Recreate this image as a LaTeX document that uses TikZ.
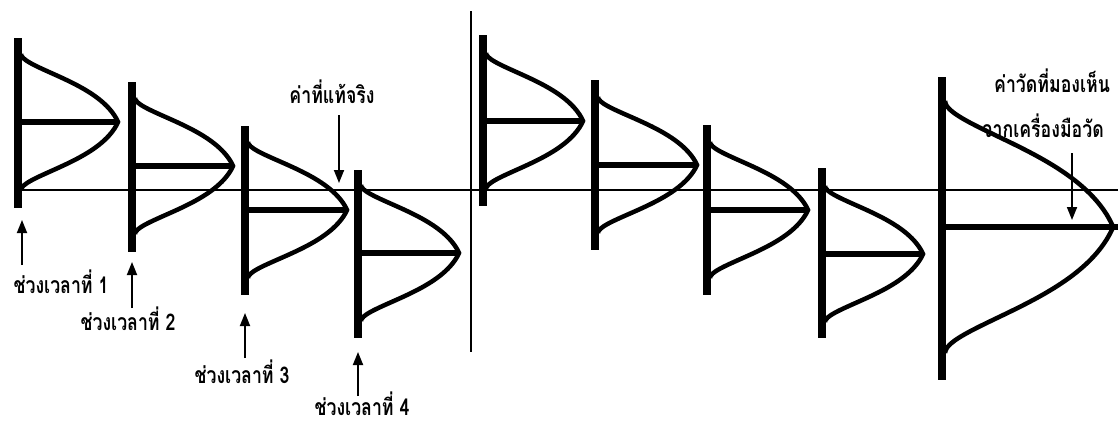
\documentclass[tikz,border=0pt]{standalone}
\usepackage{graphicx}
\usepackage{fontspec}
\newfontfamily\thaifont[Script=Thai]{Loma}
\usetikzlibrary{arrows.meta}

\newcommand\thtext[1]{\scalebox{0.77}[1]{#1}}
\tikzset{
  bar/.style={line width=8.5pt},
  meanln/.style={line width=6.5pt},
  bell/.style={line width=4.5pt},
  pointer/.style={line width=1.8pt,-{Triangle[length=13pt,width=10pt]}},
  lbl/.style={font=\thaifont\bfseries\fontsize{23}{26}\selectfont,inner sep=0pt,text depth=0pt,anchor=base}
}

\begin{document}
\begin{tikzpicture}[x=1pt,y=-1pt]
  \useasboundingbox (0,0) rectangle (1118,424);
  % reference line and divider
  \draw[line width=1.5pt] (15,190) -- (1118,190);
  \draw[line width=1.5pt] (471,11) -- (471,352);
  % bar x / top / bottom / mean / half height / peak
  \foreach \bx/\bt/\bb/\my/\hh/\bw in {18/38/208/122/68/100,132/82/252/166/68/101,245/126/295/210/68/102,358/170/338/253/68/101,
      483/35/206/121/68/100,595/80/250/165/68/102,707/125/295/210/68/101,822/168/338/254/68/101,942/77/380/227/126/171}{
    \draw[bar] (\bx,\bt) -- (\bx,\bb);
    \draw[meanln] (\bx,\my) -- ++(\bw,0);
    \draw[bell] plot[domain=-1:1,samples=61,smooth]
      ({\bx+3+(\bw-3)*(1-\x*\x)*(1-\x*\x)*(1+0.84*\x*\x)*(1-0.3*abs(\x)*(1-abs(\x)))},{\my+\hh*\x});
  }
  \draw[meanln] (1100,227) -- (1118,227);
  % labels
  \node[lbl] (t1) at (61,293) {\thtext{ช่วงเวลาที่ 1}};
  \node[lbl] (t2) at (128,330) {\thtext{ช่วงเวลาที่ 2}};
  \node[lbl] (t3) at (242,383) {\thtext{ช่วงเวลาที่ 3}};
  \node[lbl] (t4) at (362,415) {\thtext{ช่วงเวลาที่ 4}};
  \node[lbl] (truev) at (332,103) {\thtext{ค่าที่แท้จริง}};
  \node[lbl] (meas1) at (1052,92) {\thtext{ค่าวัดที่มองเห็น}};
  \node[lbl] (meas2) at (1043,137) {\thtext{จากเครื่องมือวัด}};
  % arrows
  \foreach \n/\ax/\ay/\by in {1/22/265/220,2/132/308/262,3/245/358/313,4/358/396/352,5/339/115/183,6/1072/153/220}{
    \coordinate (a\n) at (\ax,\ay);
    \coordinate (b\n) at (\ax,\by);
    \draw[pointer] (a\n) -- (b\n);
  }
\end{tikzpicture}
\end{document}
